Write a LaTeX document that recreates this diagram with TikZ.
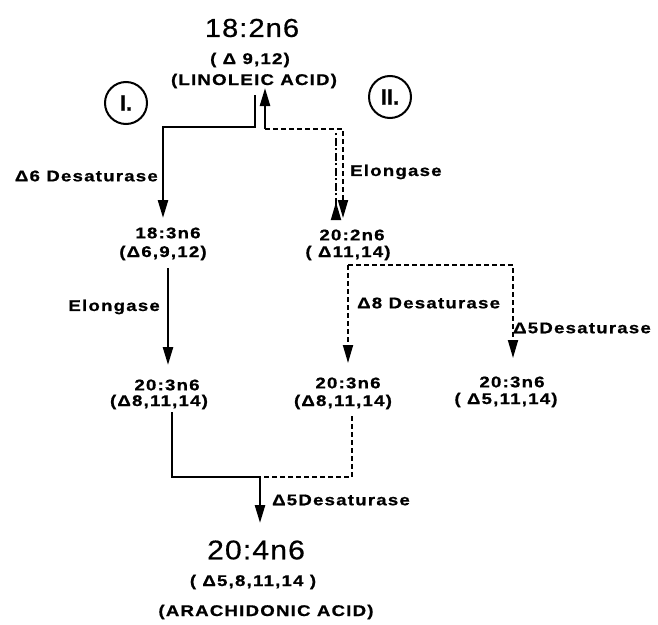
\documentclass[tikz,border=0pt]{standalone}
\usepackage{fontspec}
\setmainfont{Liberation Sans}
\newfontfamily\lblfont{Liberation Sans Bold}[FakeStretch=1.2, LetterSpace=8, FakeBold=0.8]
\newfontfamily\bigfont{Liberation Sans}[FakeStretch=1.12, LetterSpace=4, FakeBold=0.5]
\newfontfamily\romfont{Liberation Sans Bold}[FakeBold=0.8]
\usetikzlibrary{arrows.meta}
\begin{document}
\begin{tikzpicture}[x=1pt,y=-1pt,
  lbl/.style={inner sep=0pt, font=\lblfont\fontsize{15.5}{18}\selectfont},
  big/.style={inner sep=0pt, font=\bigfont\fontsize{26}{30}\selectfont},
  roman/.style={draw, circle, line width=2pt, minimum size=42pt, inner sep=0pt,
     font=\romfont\fontsize{22}{24}\selectfont},
  sline/.style={line width=2.5pt, line cap=butt},
  dline/.style={line width=1.8pt, dash pattern=on 5pt off 3pt},
  ddline/.style={line width=1.8pt, dash pattern=on 8pt off 2.5pt on 2pt off 2.5pt},
  tip/.style={-{Triangle[length=18pt,width=10pt]}},
]
\useasboundingbox (0,0) rectangle (658,624);

% texts
\node[big] (t182) at (252,28) {18:2n6};
\node[lbl] (t182d) at (250,60) {( Δ 9,12)};
\node[lbl] (lin) at (254,81) {(LINOLEIC ACID)};
\node[roman] (c1) at (126,103) {I.};
\node[roman] (c2) at (390,97) {II.};

\node[lbl] (n183) at (168,233) {18:3n6};
\node[lbl] (n183d) at (163,253) {(Δ6,9,12)};
\node[lbl] (n202) at (352,235) {20:2n6};
\node[lbl] (n202d) at (348,253) {( Δ11,14)};

\node[lbl] (n203a) at (167,385) {20:3n6};
\node[lbl] (n203ad) at (159,402) {(Δ8,11,14)};
\node[lbl] (n203b) at (348,383) {20:3n6};
\node[lbl] (n203bd) at (343,402) {(Δ8,11,14)};
\node[lbl] (n203c) at (512,382) {20:3n6};
\node[lbl] (n203cd) at (506,400) {( Δ5,11,14)};

\node[big, font=\bigfont\fontsize{27}{30}\selectfont] (n204) at (256,550) {20:4n6};
\node[lbl] (n204d) at (253,582) {( Δ5,8,11,14 )};
\node[lbl] (ara) at (266,612) {(ARACHIDONIC ACID)};

% enzyme labels
\node[lbl, anchor=east] (e1) at (158,176) {Δ6 Desaturase};
\node[lbl, anchor=west] (e2) at (350,172) {Elongase};
\node[lbl, anchor=east] (e3) at (160,307) {Elongase};
\node[lbl, anchor=west] (e4) at (357,303) {Δ8 Desaturase};
\node[lbl, anchor=west] (e5) at (513,328) {Δ5Desaturase};
\node[lbl, anchor=west] (e6) at (272,500) {Δ5Desaturase};

% coordinates
\coordinate (s0) at (255,95);
\coordinate (k1) at (255,127);
\coordinate (a183) at (163,218);
\coordinate (k2) at (265,129);
\coordinate (u0) at (265,88);
\coordinate (k3) at (343,129);
\coordinate (a202) at (343,218);
\coordinate (b202) at (336,220);
\coordinate (k4) at (336,133);
\coordinate (s183) at (168,268);
\coordinate (a203a) at (168,365);
\coordinate (s202) at (348,265);
\coordinate (k5) at (513,265);
\coordinate (a203b) at (348,363);
\coordinate (a203c) at (513,358);
\coordinate (s203a) at (172,412);
\coordinate (j1) at (260,477);
\coordinate (s203b) at (352,416);
\coordinate (a204) at (260,523);

% pathway I
\draw[sline, tip] (s0) -- (k1) -| (a183);
\draw[sline, tip] (s183) -- (a203a);
\draw[sline] (s203a) |- (j1);
\draw[sline, tip] (j1) -- (a204);

% pathway II
\draw[sline, tip] (k2) -- (u0);
\draw[dline, tip] (k2) -- (k3) -- (a202);
\draw[ddline, {Triangle[reversed,length=18pt,width=10pt]}-] (b202) -- (k4);
\draw[dline, tip] (s202) -- (a203b);
\draw[dline, tip] (s202) -- (k5) -- (a203c);
\draw[dline] (s203b) |- (j1);
\end{tikzpicture}
\end{document}
